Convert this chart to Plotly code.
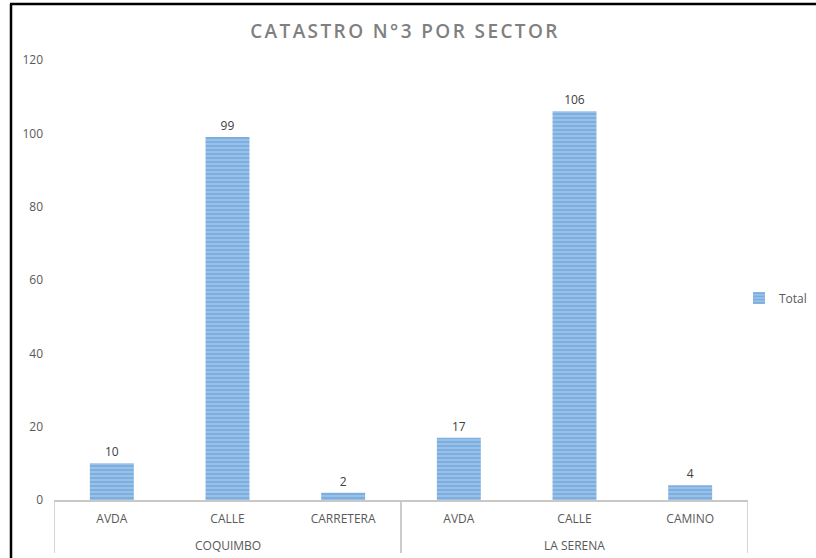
import plotly.graph_objects as go

sectors = ["COQUIMBO", "COQUIMBO", "COQUIMBO", "LA SERENA", "LA SERENA", "LA SERENA"]
streets = ["AVDA", "CALLE", "CARRETERA", "AVDA", "CALLE", "CAMINO"]
totals = [10, 99, 2, 17, 106, 4]
y_ticks = [0, 20, 40, 60, 80, 100, 120]

W, H = 816, 558
L, R, T, B = 54, 68, 60, 58
pw, ph = W - L - R, H - T - B

def px_x(p):
    return (p - L) / pw

def px_y(p):
    return (H - B - p) / ph

pos = list(range(len(streets)))

fig = go.Figure()
fig.add_trace(go.Bar(
    x=pos, y=totals, name="Total",
    marker=dict(color="#9CC2E8", line=dict(width=0),
                pattern=dict(shape="-", fgcolor="#5B9BD5", size=4, solidity=0.55)),
    text=totals, textposition="outside",
    textfont=dict(color="#404040", size=12, family="Open Sans"),
    cliponaxis=False, width=0.38,
))

fig.update_layout(
    width=W, height=H,
    margin=dict(l=L, r=R, t=T, b=B, autoexpand=False),
    paper_bgcolor="white", plot_bgcolor="white",
    title=dict(text="CATASTRO N°3 POR SECTOR",
               x=px_x(405), xref="paper", xanchor="center", y=1 - 31 / H, yanchor="middle",
               font=dict(family="Open Sans", size=19, color="#808080", weight=600)),
    showlegend=True,
    legend=dict(x=px_x(739), y=px_y(298), xanchor="left", yanchor="middle",
                font=dict(family="Open Sans", size=12, color="#595959"),
                bgcolor="rgba(0,0,0,0)"),
    font=dict(family="Open Sans", color="#595959"),
)
fig.update_yaxes(range=[0, 120], tickvals=y_ticks, showgrid=False, zeroline=False,
                 showline=False, tickfont=dict(size=12, color="#595959"), ticks="",
                 ticklabelstandoff=10)
fig.update_xaxes(range=[-0.5, len(streets) - 0.5], tickvals=pos, ticktext=streets,
                 showline=True, linecolor="#C8C8C8", linewidth=1.5, ticks="",
                 showgrid=False, zeroline=False,
                 tickfont=dict(size=12, color="#595959"), ticklabelstandoff=7)

# group labels and dividers
groups = []
for i, s in enumerate(sectors):
    if not groups or groups[-1][0] != s:
        groups.append([s, i, i])
    else:
        groups[-1][2] = i
for s, a, b in groups:
    fig.add_annotation(x=(a + b) / 2, y=px_y(545), xref="x", yref="paper",
                       text=s, showarrow=False, yanchor="middle",
                       font=dict(family="Open Sans", size=12, color="#595959"))
    for edge in (a - 0.5, b + 0.5):
        fig.add_shape(type="line", xref="x", yref="paper", x0=edge, x1=edge,
                      y0=0, y1=px_y(553), line=dict(color="#C8C8C8", width=1.5))

# outer black frame
fig.add_shape(type="line", xref="paper", yref="paper", x0=px_x(11), x1=px_x(11),
              y0=px_y(4), y1=px_y(H + 5), line=dict(color="black", width=2.5))
fig.add_shape(type="line", xref="paper", yref="paper", x0=px_x(10), x1=px_x(W + 5),
              y0=px_y(4), y1=px_y(4), line=dict(color="black", width=2.5))

post = ("document.body.style.margin='0';"
        "document.querySelectorAll('.gtitle').forEach(function(t){t.style.letterSpacing='2.4px';});")
fig.write_html("out.html", post_script=post, config={"displayModeBar": False})
